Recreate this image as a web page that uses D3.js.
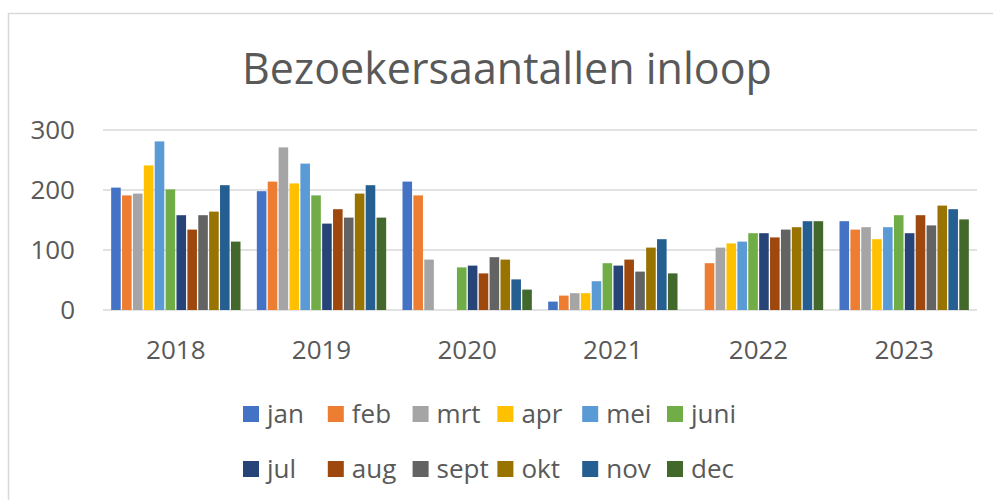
<!DOCTYPE html>
<html>
<head>
<meta charset="utf-8">
<script src="https://cdn.jsdelivr.net/npm/d3@7/dist/d3.min.js"></script>
<style>
  html, body { margin: 0; padding: 0; background: #fff; }
  svg { display: block; }
  text { font-family: "Open Sans", sans-serif; fill: #595959; }
</style>
</head>
<body>
<svg id="chart" width="993" height="500"></svg>
<script>
const years = ["2018", "2019", "2020", "2021", "2022", "2023"];
const months = ["jan", "feb", "mrt", "apr", "mei", "juni", "jul", "aug", "sept", "okt", "nov", "dec"];
const monthColors = ["#4472C4", "#ED7D31", "#A5A5A5", "#FFC000", "#5B9BD5", "#70AD47",
                     "#264478", "#9E480E", "#636363", "#997300", "#255E91", "#43682B"];
// values per year, in month order (null = no bar)
const v2018 = [204, 191, 194, 241, 281, 201, 158, 134, 158, 164, 208, 114];
const v2019 = [198, 214, 271, 211, 244, 191, 144, 168, 154, 194, 208, 154];
const v2020 = [214, 191, 84, null, null, 71, 74, 61, 88, 84, 51, 34];
const v2021 = [14, 24, 28, 28, 48, 78, 74, 84, 64, 104, 118, 61];
const v2022 = [null, 78, 104, 111, 114, 128, 128, 121, 134, 138, 148, 148];
const v2023 = [148, 134, 138, 118, 138, 158, 128, 158, 141, 174, 168, 151];
const yTicks = [0, 100, 200, 300];
const title = "Bezoekersaantallen inloop";

const seriesByYear = [v2018, v2019, v2020, v2021, v2022, v2023];

const svg = d3.select("#chart");

// outer chart border
svg.append("rect")
  .attr("x", 8.5).attr("y", 13.5)
  .attr("width", 1000).attr("height", 500)
  .attr("fill", "#fff").attr("stroke", "#d9d9d9").attr("stroke-width", 1.5);

const plot = { left: 103, right: 977, top: 130, bottom: 310 };

const x0 = d3.scaleBand().domain(years).range([plot.left, plot.right]).paddingInner(0).paddingOuter(0);
const x1 = d3.scaleBand().domain(months)
  .range([0, x0.bandwidth()]).paddingInner(0.12).paddingOuter(0.75);
const y = d3.scaleLinear().domain([0, 300]).range([plot.bottom, plot.top]);
const color = d3.scaleOrdinal().domain(months).range(monthColors);

// gridlines
svg.append("g").selectAll("line").data(yTicks).join("line")
  .attr("x1", plot.left).attr("x2", plot.right)
  .attr("y1", d => y(d)).attr("y2", d => y(d))
  .attr("stroke", "#d9d9d9").attr("stroke-width", 1.5);

// y axis labels
const yAxis = d3.axisLeft(y).tickValues(yTicks).tickSize(0).tickPadding(0);
const gy = svg.append("g").attr("transform", `translate(75,0)`).call(yAxis);
gy.select(".domain").remove();
gy.selectAll("text").attr("font-size", 26).attr("font-family", "Open Sans, sans-serif").attr("fill", "#595959");

// bars
const groups = svg.append("g").selectAll("g").data(years).join("g")
  .attr("transform", d => `translate(${x0(d)},0)`);
groups.selectAll("rect")
  .data((yr, i) => months.map((m, j) => ({ m, v: seriesByYear[i][j] })).filter(d => d.v != null))
  .join("rect")
  .attr("x", d => x1(d.m))
  .attr("width", x1.bandwidth())
  .attr("y", d => y(d.v))
  .attr("height", d => y(0) - y(d.v))
  .attr("fill", d => color(d.m));

// x axis labels
const xAxis = d3.axisBottom(x0).tickSize(0).tickPadding(0);
const gx = svg.append("g").attr("transform", `translate(0,${plot.bottom + 31})`).call(xAxis);
gx.select(".domain").remove();
gx.selectAll("text").attr("font-size", 26).attr("font-family", "Open Sans, sans-serif").attr("fill", "#595959");

// title
svg.append("text")
  .attr("x", 507).attr("y", 84)
  .attr("text-anchor", "middle")
  .attr("font-size", 43)
  .text(title);

// legend
const legendX = d3.scalePoint().domain(d3.range(6)).range([243, 667]);
const legend = svg.append("g").selectAll("g").data(months).join("g")
  .attr("transform", (d, i) => `translate(${legendX(i % 6)},${i < 6 ? 414 : 469})`);
legend.append("rect")
  .attr("x", 0).attr("y", -8).attr("width", 16).attr("height", 16)
  .attr("fill", d => color(d));
legend.append("text")
  .attr("x", 24).attr("y", 0).attr("dy", "0.35em")
  .attr("font-size", 26)
  .text(d => d);
</script>
</body>
</html>
